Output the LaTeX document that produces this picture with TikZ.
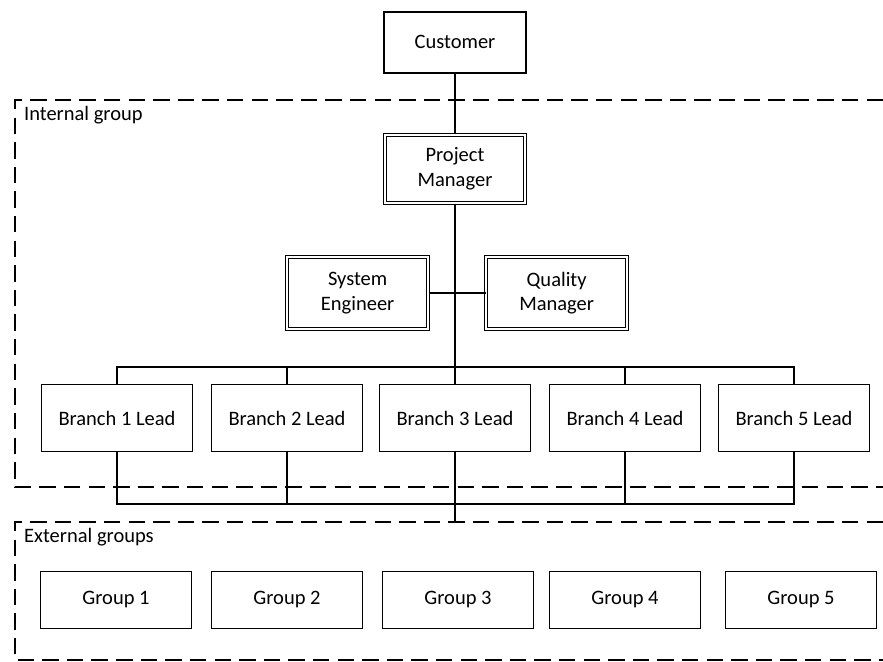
\documentclass[tikz,border=0pt]{standalone}
\usepackage{fontspec}
\setmainfont{Carlito}
\tikzset{
  box/.style={draw, line width=1.5pt, fill=white, align=center, inner sep=0pt},
  dblbox/.style={box, line width=1pt, double, double distance=1.4pt},
  wire/.style={line width=2.4pt},
  grpline/.style={line width=1.5pt, dash pattern=on 14pt off 7pt}
}
\begin{document}
\begin{tikzpicture}[font=\fontsize{17.5}{21}\selectfont]
\useasboundingbox (0,0) rectangle (26.49,19.86);
% dashed group frames
\draw[grpline] (26.49,16.86) -- (0.45,16.86) -- (0.45,5.25) -- (26.49,5.25);
\draw[grpline] (26.49,4.2) -- (0.45,4.2) -- (0.45,0.06) -- (26.49,0.06);
\node[anchor=west] (intlabel) at (0.6,16.41) {Internal group};
\node[anchor=west] (extlabel) at (0.6,3.75) {External groups};
% people
\node[box, minimum width=4.26cm, minimum height=1.83cm] (customer) at (13.65,18.59) {Customer};
\node[dblbox, minimum width=4.2cm, minimum height=2.04cm] (pm) at (13.65,14.79) {Project\\Manager};
\node[dblbox, minimum width=4.23cm, minimum height=2.16cm] (se) at (10.73,11.07) {System\\Engineer};
\node[dblbox, minimum width=4.23cm, minimum height=2.16cm] (qm) at (16.70,11.07) {Quality\\Manager};
\node[box, minimum width=4.53cm, minimum height=2.01cm] (lead1) at (3.51,7.32) {Branch 1 Lead};
\node[box, minimum width=4.53cm, minimum height=2.01cm] (lead2) at (8.61,7.32) {Branch 2 Lead};
\node[box, minimum width=4.53cm, minimum height=2.01cm] (lead3) at (13.65,7.32) {Branch 3 Lead};
\node[box, minimum width=4.53cm, minimum height=2.01cm] (lead4) at (18.75,7.32) {Branch 4 Lead};
\node[box, minimum width=4.53cm, minimum height=2.01cm] (lead5) at (23.82,7.32) {Branch 5 Lead};
% external groups
\node[box, minimum width=4.53cm, minimum height=1.71cm] (grp1) at (3.48,1.86) {Group 1};
\node[box, minimum width=4.53cm, minimum height=1.71cm] (grp2) at (8.61,1.86) {Group 2};
\node[box, minimum width=4.53cm, minimum height=1.71cm] (grp3) at (13.74,1.86) {Group 3};
\node[box, minimum width=4.53cm, minimum height=1.71cm] (grp4) at (18.75,1.86) {Group 4};
\node[box, minimum width=4.53cm, minimum height=1.71cm] (grp5) at (24.03,1.86) {Group 5};
% junction points
\coordinate (topbus) at (13.65,8.85);
\coordinate (botbus) at (13.65,4.74);
\coordinate (extin) at (13.65,4.2);
% connectors
\draw[wire] (customer) -- (pm);
\draw[wire] (pm) -- (lead3);
\draw[wire] (se) -- (qm);
\draw[wire] (lead1.north) |- (topbus) -| (lead5.north);
\draw[wire] (lead2.north) -- (lead2.north |- topbus);
\draw[wire] (lead4.north) -- (lead4.north |- topbus);
\draw[wire] (lead1.south) |- (botbus) -| (lead5.south);
\draw[wire] (lead2.south) -- (lead2.south |- botbus);
\draw[wire] (lead4.south) -- (lead4.south |- botbus);
\draw[wire] (lead3) -- (extin);
\end{tikzpicture}
\end{document}
